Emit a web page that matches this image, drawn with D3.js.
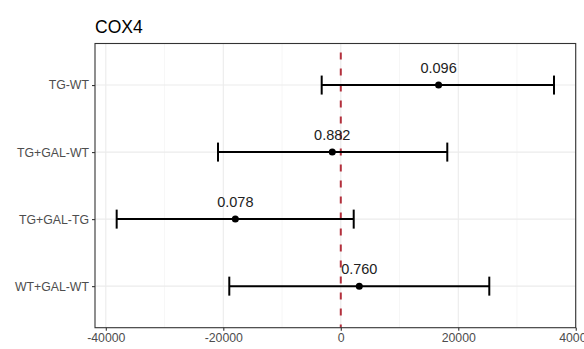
<!DOCTYPE html>
<html>
<head>
<meta charset="utf-8">
<script src="https://cdn.jsdelivr.net/npm/d3@7"></script>
<style>
  html, body { margin: 0; padding: 0; background: #fff; }
  svg { display: block; font-family: Arial, "Liberation Sans", sans-serif; }
</style>
</head>
<body>
<svg id="chart" width="584" height="349"></svg>
<script>
// Contrasts (top to bottom), their estimates, confidence limits and p-value labels
const contrasts = ["TG-WT", "TG+GAL-WT", "TG+GAL-TG", "WT+GAL-WT"];
const estimates = [16650, -1450, -17950, 3150];
const lowerCI = [-3250, -20900, -38150, -18980];
const upperCI = [36300, 18130, 2200, 25280];
const pLabels = ["0.096", "0.882", "0.078", "0.760"];
const xTicks = [-40000, -20000, 0, 20000, 40000];
const xMinor = [-30000, -10000, 10000, 30000];
const title = "COX4";

const svg = d3.select("#chart");
const margin = { left: 95, top: 43.5, right: 8.3, bottom: 21.3 };
const W = 584, H = 349;
const innerW = W - margin.left - margin.right;
const innerH = H - margin.top - margin.bottom;

const x = d3.scaleLinear().domain([-41840, 39990]).range([0, innerW]);
const y = d3.scalePoint().domain(contrasts).range([0, innerH]).padding(0.62);

const g = svg.append("g").attr("transform", `translate(${margin.left},${margin.top})`);

// grid lines
g.selectAll(".minor").data(xMinor).join("line")
  .attr("x1", d => x(d)).attr("x2", d => x(d))
  .attr("y1", 0).attr("y2", innerH)
  .attr("stroke", "#f0f0f0").attr("stroke-width", 0.6);
g.selectAll(".major").data(xTicks).join("line")
  .attr("x1", d => x(d)).attr("x2", d => x(d))
  .attr("y1", 0).attr("y2", innerH)
  .attr("stroke", "#ebebeb").attr("stroke-width", 1.1);
g.selectAll(".hgrid").data(contrasts).join("line")
  .attr("x1", 0).attr("x2", innerW)
  .attr("y1", d => y(d)).attr("y2", d => y(d))
  .attr("stroke", "#ebebeb").attr("stroke-width", 1.1);

// reference line at zero
g.append("line")
  .attr("x1", x(0)).attr("x2", x(0))
  .attr("y1", 0).attr("y2", innerH)
  .attr("stroke", "#b3303c").attr("stroke-width", 2)
  .attr("stroke-dasharray", "7,9").attr("stroke-dashoffset", -9);

// error bars
const rows = contrasts.map((c, i) => ({ c, est: estimates[i], lo: lowerCI[i], hi: upperCI[i], p: pLabels[i] }));
const capH = 9.5;
const eb = g.selectAll(".eb").data(rows).join("g");
eb.append("line")
  .attr("x1", d => x(d.lo)).attr("x2", d => x(d.hi))
  .attr("y1", d => y(d.c)).attr("y2", d => y(d.c))
  .attr("stroke", "#000").attr("stroke-width", 2);
eb.append("line")
  .attr("x1", d => x(d.lo)).attr("x2", d => x(d.lo))
  .attr("y1", d => y(d.c) - capH).attr("y2", d => y(d.c) + capH)
  .attr("stroke", "#000").attr("stroke-width", 2);
eb.append("line")
  .attr("x1", d => x(d.hi)).attr("x2", d => x(d.hi))
  .attr("y1", d => y(d.c) - capH).attr("y2", d => y(d.c) + capH)
  .attr("stroke", "#000").attr("stroke-width", 2);
eb.append("circle")
  .attr("cx", d => x(d.est)).attr("cy", d => y(d.c)).attr("r", 3.5)
  .attr("fill", "#000");
eb.append("text")
  .attr("x", d => x(d.est)).attr("y", d => y(d.c) - 12)
  .attr("text-anchor", "middle")
  .attr("font-size", 14.5).attr("fill", "#222")
  .text(d => d.p);

// panel border
g.append("rect")
  .attr("x", 0).attr("y", 0).attr("width", innerW).attr("height", innerH)
  .attr("fill", "none").attr("stroke", "#333").attr("stroke-width", 1.1);

// axes (plain hyphen-minus for negative tick labels)
const fmt = d => String(d);
const xAxis = g.append("g").attr("transform", `translate(0,${innerH})`)
  .call(d3.axisBottom(x).tickValues(xTicks).tickSize(3).tickPadding(3).tickFormat(fmt));
const yAxis = g.append("g")
  .call(d3.axisLeft(y).tickSize(3).tickPadding(3));
[xAxis, yAxis].forEach(a => {
  a.select(".domain").remove();
  a.selectAll(".tick line").attr("stroke", "#333").attr("stroke-width", 1.1);
  a.selectAll(".tick text").attr("fill", "#4d4d4d").attr("font-size", 12.3)
    .attr("font-family", "Arial, 'Liberation Sans', sans-serif");
});

// title
svg.append("text")
  .attr("x", margin.left).attr("y", 33)
  .attr("font-size", 17.5).attr("fill", "#000")
  .text(title);
</script>
</body>
</html>
